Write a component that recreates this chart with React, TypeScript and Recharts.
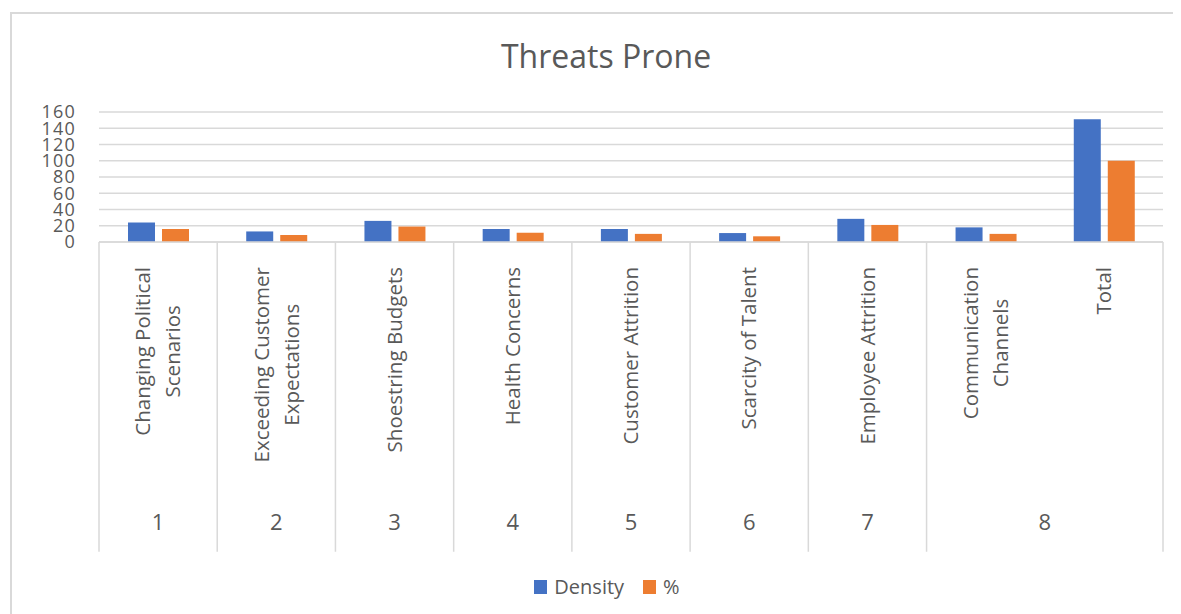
import React from 'react';
import { BarChart, Bar, XAxis, YAxis, CartesianGrid, Legend } from 'recharts';

const categories = [
  'Changing Political\nScenarios',
  'Exceeding Customer\nExpectations',
  'Shoestring Budgets',
  'Health Concerns',
  'Customer Attrition',
  'Scarcity of Talent',
  'Employee Attrition',
  'Communication\nChannels',
  'Total',
];
const groupLabels = ['1', '2', '3', '4', '5', '6', '7', '8', '8'];
const density = [24, 13, 26, 16, 16, 11, 28.5, 18, 151];
const percent = [16, 8.6, 19, 11.4, 10, 7, 21, 10, 100];
const yTicks = [0, 20, 40, 60, 80, 100, 120, 140, 160];
const seriesOrder = ['Density', '%'];
const title = 'Threats Prone';

const data = categories.map((c, i) => ({ name: c, density: density[i], percent: percent[i] }));

const FONT = "'Open Sans', 'Noto Sans', sans-serif";
const TEXT = '#595959';
const GRID = '#D9D9D9';
const W = 1173;
const H = 606;
const M = { top: 104, right: 18, bottom: 52, left: 11 };
const Y_W = 80;
const X_H = 320;
const plotLeft = M.left + Y_W;
const plotW = W - M.right - plotLeft;
const bw = plotW / categories.length;
const LABEL_FS = 20.5;
const LINE_LEN = 309.7;
const LABEL_TOP = 25;
const GROUP_Y = 280;

let ctx: CanvasRenderingContext2D | null = null;
function textWidth(s: string, fs: number) {
  if (!ctx) ctx = document.createElement('canvas').getContext('2d');
  if (!ctx) return s.length * fs * 0.5;
  ctx.font = `${fs}px 'Open Sans'`;
  return ctx.measureText(s).width;
}

function groupSpan(i: number) {
  const g = groupLabels[i];
  const isStart = i === 0 || groupLabels[i - 1] !== g;
  let len = 1;
  while (i + len < groupLabels.length && groupLabels[i + len] === g) len++;
  return { isStart, len };
}

const XTick = (props: any) => {
  const { x, y, payload } = props;
  const i = categories.indexOf(payload.value);
  if (i < 0) return null;
  const lines = categories[i].split('\n');
  const { isStart, len } = groupSpan(i);
  const py = y + LABEL_TOP;
  const els: React.ReactNode[] = [];
  if (lines.length === 1) {
    els.push(
      <text key="l0" x={x} y={py} dy="0.35em" textAnchor="end" transform={`rotate(-90, ${x}, ${py})`}
        fill={TEXT} fontSize={LABEL_FS} fontFamily={FONT}>{lines[0]}</text>
    );
  } else {
    const L = Math.max(...lines.map((l) => textWidth(l, LABEL_FS)));
    const yc = py + L / 2;
    const step = 30;
    lines.forEach((l, k) => {
      const lx = x + (k - (lines.length - 1) / 2) * step;
      els.push(
        <text key={'l' + k} x={lx} y={yc} dy="0.35em" textAnchor="middle" transform={`rotate(-90, ${lx}, ${yc})`}
          fill={TEXT} fontSize={LABEL_FS} fontFamily={FONT}>{l}</text>
      );
    });
  }
  return (
    <g>
      {isStart && (
        <line x1={x - bw / 2} x2={x - bw / 2} y1={y} y2={y + LINE_LEN} stroke={GRID} strokeWidth={1.5} />
      )}
      {i === categories.length - 1 && (
        <line x1={x + bw / 2} x2={x + bw / 2} y1={y} y2={y + LINE_LEN} stroke={GRID} strokeWidth={1.5} />
      )}
      {els}
      {isStart && (
        <text x={x + ((len - 1) * bw) / 2} y={y + GROUP_Y} dy="0.35em" textAnchor="middle"
          fill={TEXT} fontSize={22} fontFamily={FONT}>{groupLabels[i]}</text>
      )}
    </g>
  );
};

const renderLegend = (props: any) => {
  const payload = [...(props.payload || [])].sort(
    (a: any, b: any) => seriesOrder.indexOf(a.value) - seriesOrder.indexOf(b.value)
  );
  return (
    <div style={{ display: 'flex', justifyContent: 'center', alignItems: 'center', height: 30, fontFamily: FONT }}>
      {payload.map((e: any, k: number) => (
        <div key={k} style={{ display: 'flex', alignItems: 'center', marginRight: k < payload.length - 1 ? 19 : 0 }}>
          <span style={{ display: 'inline-block', width: 13, height: 14, background: e.color, marginRight: 7 }} />
          <span style={{ fontSize: 20, color: TEXT, lineHeight: '30px' }}>{e.value}</span>
        </div>
      ))}
    </div>
  );
};

export default function App() {
  return (
    <div style={{ position: 'relative', width: W, height: H }}>
      <BarChart width={W} height={H} data={data} margin={M} barGap={7} barSize={27}>
        <CartesianGrid vertical={false} stroke={GRID} strokeWidth={1.5} />
        <XAxis dataKey="name" interval={0} height={X_H} tickSize={0} tickMargin={0} tickLine={false}
          axisLine={{ stroke: GRID, strokeWidth: 1.5 }} tick={(p: any) => <XTick {...p} />} />
        <YAxis width={Y_W} domain={[0, 160]} ticks={yTicks} interval={0} tickSize={0} tickMargin={23}
          tickLine={false} axisLine={false}
          tick={{ fill: TEXT, fontSize: 18, fontFamily: FONT, letterSpacing: 1.2 }} />
        <Bar dataKey="density" name={seriesOrder[0]} fill="#4472C4" isAnimationActive={false} />
        <Bar dataKey="percent" name={seriesOrder[1]} fill="#ED7D31" isAnimationActive={false} />
        <Legend layout="horizontal" verticalAlign="middle" align="center"
          wrapperStyle={{ left: 25, top: 564, width: 1148, height: 30 }} content={renderLegend} />
      </BarChart>
      <svg width={W} height={H} style={{ position: 'absolute', left: 0, top: 0, pointerEvents: 'none' }}>
        <rect x={2} y={4} width={W - 2} height={2} fill={GRID} />
        <rect x={2} y={4} width={2} height={H - 4} fill={GRID} />
        <text x={598} y={60} textAnchor="middle" fill={TEXT} fontSize={32} fontFamily={FONT}>{title}</text>
      </svg>
    </div>
  );
}
